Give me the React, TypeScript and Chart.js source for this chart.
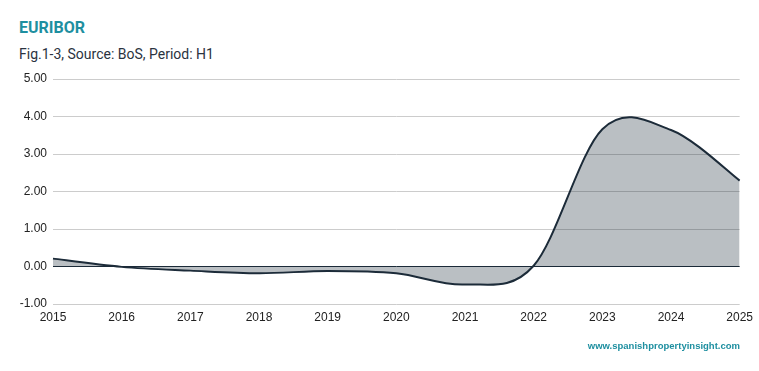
import React, { useEffect, useRef } from "react";
import { Chart, registerables } from "chart.js";

Chart.register(...registerables);

const years = ["2015", "2016", "2017", "2018", "2019", "2020", "2021", "2022", "2023", "2024", "2025"];
const euribor = [0.21, -0.01, -0.11, -0.18, -0.12, -0.18, -0.48, 0.02, 3.66, 3.64, 2.29];
const yTicks = [-1, 0, 1, 2, 3, 4, 5];

// Uniform Catmull-Rom style control points (function curve), computed from
// the positions Chart.js has already placed on its scales.
const functionCurve = {
  id: "functionCurve",
  afterDatasetsUpdate(chart: any) {
    chart.getSortedVisibleDatasetMetas().forEach((meta: any) => {
      const line = meta.dataset;
      const pts = meta.data;
      if (line && line.updateControlPoints) line.updateControlPoints(chart.chartArea, "x");
      const k = 1 / 6;
      for (let i = 0; i < pts.length; i++) {
        const p = pts[i];
        const prev = pts[i - 1] || p;
        const next = pts[i + 1] || p;
        const dx = next.x - prev.x;
        const dy = next.y - prev.y;
        p.cp1x = p.x - k * dx;
        p.cp1y = p.y - k * dy;
        p.cp2x = p.x + k * dx;
        p.cp2y = p.y + k * dy;
      }
    });
  },
};

export default function App() {
  const ref = useRef<HTMLCanvasElement | null>(null);

  useEffect(() => {
    if (!ref.current) return;
    const chart = new Chart(ref.current, {
      type: "line",
      data: {
        labels: years,
        datasets: [
          {
            data: euribor,
            borderColor: "#1c2b39",
            borderWidth: 2,
            backgroundColor: "rgba(28,43,57,0.3)",
            fill: "origin",
            tension: 0.4,
            pointRadius: 0,
          },
        ],
      },
      plugins: [functionCurve],
      options: {
        animation: false,
        responsive: false,
        maintainAspectRatio: false,
        layout: { padding: { left: 0, right: 19, top: 79, bottom: 47 } },
        plugins: { legend: { display: false }, tooltip: { enabled: false }, title: { display: false } },
        scales: {
          x: {
            grid: { display: false, drawTicks: false },
            border: { display: false },
            ticks: {
              padding: 6,
              maxRotation: 0,
              autoSkip: false,
              color: "#222",
              font: { family: "'Liberation Sans', Arial, sans-serif", size: 12 },
            },
            afterFit: (s: any) => {
              s.height = 20;
            },
          },
          y: {
            min: -1,
            max: 5,
            afterBuildTicks: (s: any) => {
              s.ticks = yTicks.map((v) => ({ value: v }));
            },
            grid: {
              drawTicks: false,
              color: (c: any) => (c.tick && c.tick.value === 0 ? "#1c2b39" : "#cccccc"),
              lineWidth: 1,
            },
            border: { display: false },
            ticks: {
              padding: 6,
              color: "#222",
              font: { family: "'Liberation Sans', Arial, sans-serif", size: 12 },
              callback: (v: any) => Number(v).toFixed(2),
            },
            afterFit: (s: any) => {
              s.width = 53;
            },
          },
        },
      },
    });
    return () => chart.destroy();
  }, []);

  return (
    <div style={{ position: "fixed", left: 0, top: 0, width: 759, height: 371, background: "#fff", overflow: "hidden" }}>
      <div
        style={{
          position: "absolute",
          left: 19,
          top: 18,
          fontFamily: "Roboto, sans-serif",
          fontWeight: 700,
          fontSize: 16,
          color: "#1e8fa0",
          lineHeight: "20px",
        }}
      >
        EURIBOR
      </div>
      <div
        style={{
          position: "absolute",
          left: 19,
          top: 44,
          fontFamily: "Roboto, sans-serif",
          fontSize: 14,
          color: "#2b3340",
          lineHeight: "20px",
        }}
      >
        Fig.1-3, Source: BoS, Period: H1
      </div>
      <canvas ref={ref} width={759} height={371} style={{ position: "absolute", left: 0, top: 0 }} />
      <div
        style={{
          position: "absolute",
          right: 19,
          top: 339,
          fontFamily: "'Liberation Sans', Arial, sans-serif",
          fontWeight: 700,
          fontSize: 9.5,
          color: "#1e8fa0",
          lineHeight: "14px",
        }}
      >
        www.spanishpropertyinsight.com
      </div>
    </div>
  );
}
